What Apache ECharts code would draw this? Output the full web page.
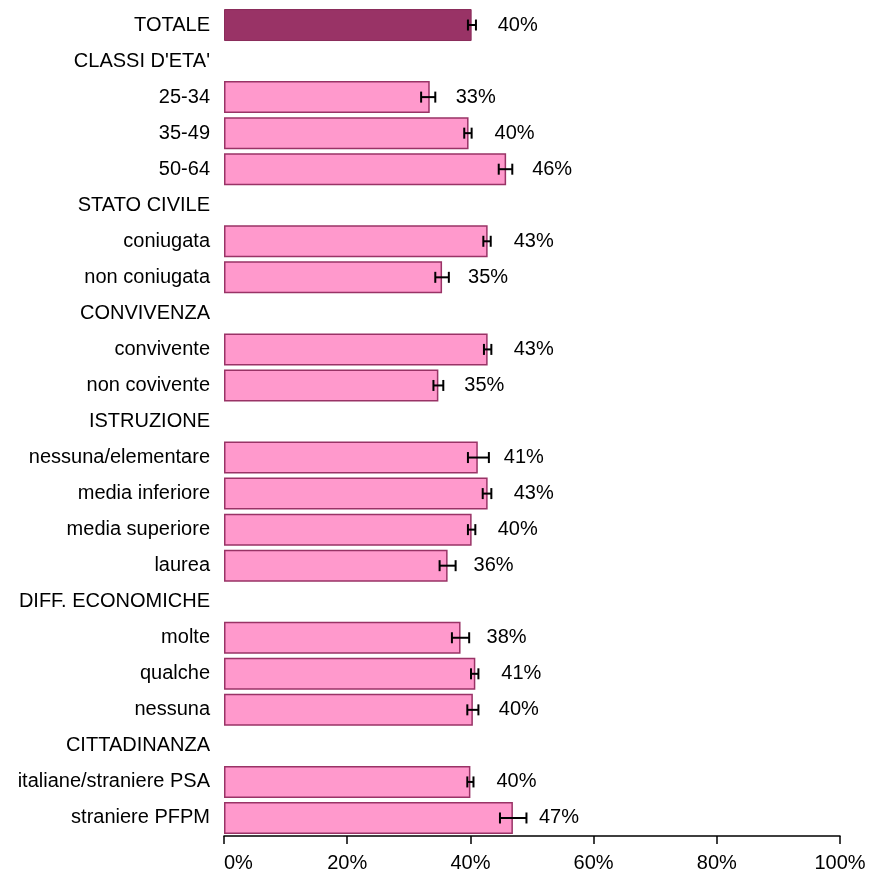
<!DOCTYPE html>
<html>
<head>
<meta charset="utf-8">
<script src="https://cdn.jsdelivr.net/npm/echarts@6/dist/echarts.min.js"></script>
<style>
  html, body { margin: 0; padding: 0; background: #fff; }
  #chart { width: 870px; height: 879px; }
</style>
</head>
<body>
<div id="chart"></div>
<script>
// categorie (le righe in maiuscolo sono intestazioni di gruppo, senza barra)
var categories = ['TOTALE', "CLASSI D'ETA'", '25-34', '35-49', '50-64',
  'STATO CIVILE', 'coniugata', 'non coniugata',
  'CONVIVENZA', 'convivente', 'non covivente',
  'ISTRUZIONE', 'nessuna/elementare', 'media inferiore', 'media superiore', 'laurea',
  'DIFF. ECONOMICHE', 'molte', 'qualche', 'nessuna',
  'CITTADINANZA', 'italiane/straniere PSA', 'straniere PFPM'];

// percentuali
var values = [40.2, null, 33.4, 39.7, 45.8, null, 42.8, 35.4, null, 42.8, 34.8,
  null, 41.2, 42.8, 40.2, 36.3, null, 38.4, 40.8, 40.4, null, 40.0, 46.9];

// intervalli di confidenza
var ciLow = [39.6, null, 32.0, 39.0, 44.6, null, 42.1, 34.3, null, 42.2, 34.0,
  null, 39.6, 42.0, 39.6, 35.0, null, 37.0, 40.1, 39.5, null, 39.5, 44.8];
var ciHigh = [40.9, null, 34.3, 40.2, 46.8, null, 43.3, 36.5, null, 43.4, 35.6,
  null, 43.0, 43.4, 40.8, 37.6, null, 39.8, 41.3, 41.3, null, 40.5, 49.1];

var xTicks = [0, 20, 40, 60, 80, 100];

var FONT = 'Liberation Sans, Arial, sans-serif';

var barData = values.map(function (v, i) {
  if (v === null) return null;
  return {
    value: v,
    itemStyle: i === 0
      ? { color: '#993366', borderColor: '#8a2c5a', borderWidth: 1 }
      : { color: '#FF99CC', borderColor: '#993366', borderWidth: 1.5 }
  };
});

var errData = [];
categories.forEach(function (c, i) {
  if (ciLow[i] !== null) errData.push([i, ciLow[i], ciHigh[i]]);
});

var chart = echarts.init(document.getElementById('chart'));
chart.setOption({
  animation: false,
  backgroundColor: '#fff',
  grid: { left: 224, right: 30, top: 7, bottom: 43, containLabel: false },
  xAxis: {
    type: 'value',
    min: xTicks[0],
    max: xTicks[xTicks.length - 1],
    interval: 20,
    axisLine: { show: true, lineStyle: { color: '#000', width: 1.5 } },
    axisTick: { show: true, length: 8, lineStyle: { color: '#000', width: 1.5 } },
    splitLine: { show: false },
    axisLabel: {
      color: '#000', fontFamily: FONT, fontSize: 20, margin: 17,
      formatter: '{value}%', alignMinLabel: 'left'
    }
  },
  yAxis: {
    type: 'category',
    inverse: true,
    data: categories,
    axisLine: { show: false },
    axisTick: { show: false },
    axisLabel: { color: '#000', fontFamily: FONT, fontSize: 20, margin: 14 }
  },
  series: [{
    type: 'bar',
    data: barData,
    barWidth: 32,
    label: {
      show: true,
      position: 'right',
      distance: 26,
      color: '#000',
      fontFamily: FONT,
      fontSize: 20,
      formatter: function (p) { return Math.round(p.value) + '%'; }
    }
  }, {
    type: 'custom',
    data: errData,
    z: 10,
    renderItem: function (params, api) {
      var cat = api.value(0);
      var lo = api.coord([api.value(1), cat]);
      var hi = api.coord([api.value(2), cat]);
      var h = 5.5;
      var style = { stroke: '#000', lineWidth: 2 };
      return {
        type: 'group',
        children: [
          { type: 'line', shape: { x1: lo[0], y1: lo[1], x2: hi[0], y2: hi[1] }, style: style },
          { type: 'line', shape: { x1: lo[0], y1: lo[1] - h, x2: lo[0], y2: lo[1] + h }, style: style },
          { type: 'line', shape: { x1: hi[0], y1: hi[1] - h, x2: hi[0], y2: hi[1] + h }, style: style }
        ]
      };
    },
    encode: { x: [1, 2], y: 0 }
  }]
});
</script>
</body>
</html>
